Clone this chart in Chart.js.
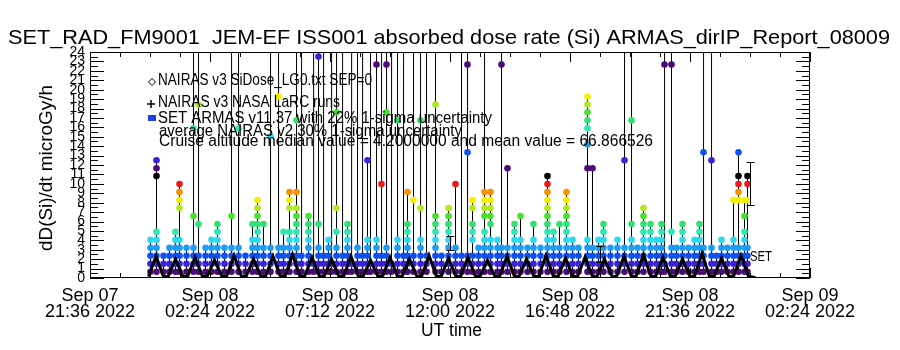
<!DOCTYPE html>
<html><head><meta charset="utf-8">
<script src="https://cdn.jsdelivr.net/npm/chart.js@4.4.0/dist/chart.umd.min.js"></script>
<style>html,body{margin:0;padding:0;background:#fff;}canvas{display:block;}</style>
</head><body>
<canvas id="c" width="900" height="350"></canvas>
<script>
const FONT = "'Liberation Sans', 'DejaVu Sans', sans-serif";

// ---- axes / labels ----
const xTickValues = [0, 4.8, 9.6, 14.4, 19.2, 24.0, 28.8]; // hours since Sep 07 21:36 UT
const xTickLabels = [["Sep 07","21:36 2022"],["Sep 08","02:24 2022"],["Sep 08","07:12 2022"],["Sep 08","12:00 2022"],["Sep 08","16:48 2022"],["Sep 08","21:36 2022"],["Sep 09","02:24 2022"]];
const yTickValues = [0,1,2,3,4,5,6,7,8,9,10,11,12,13,14,15,16,17,18,19,20,21,22,23,24];
const yTickLabels = ["0","1","2","3","4","5","6","7","8","9","10","11","12","13","14","15","16","17","18","19","20","21","22","23","24"];
const titleText = "SET_RAD_FM9001  JEM-EF ISS001 absorbed dose rate (Si) ARMAS_dirIP_Report_08009";
const yTitle = "dD(Si)/dt microGy/h";
const xTitle = "UT time";
const legendLines = ["NAIRAS v3 SiDose_LG0.txt SEP=0", "NAIRAS v3 NASA LaRC runs", "SET ARMAS v11.37 with 22% 1-sigma uncertainty", "average NAIRAS v2 30% 1-sigma uncertainty", "Cruise altitude median value = 4.2000000 and mean value = 66.866526"];

// ---- NAIRAS v3 SiDose (orbit-modulated curve) ----
const nairasT = [2.32,2.62,2.92, 3.10,3.40,3.70, 3.88,4.18,4.48, 4.66,4.96,5.26, 5.44,5.74,6.04, 6.22,6.52,6.82, 7.00,7.30,7.60, 7.78,8.08,8.38, 8.56,8.86,9.16, 9.34,9.64,9.94, 10.12,10.42,10.72, 10.90,11.20,11.50, 11.68,11.98,12.28, 12.46,12.76,13.06, 13.24,13.54,13.84, 14.02,14.32,14.62, 14.80,15.10,15.40, 15.58,15.88,16.18, 16.36,16.66,16.96, 17.14,17.44,17.74, 17.92,18.22,18.52, 18.70,19.00,19.30, 19.48,19.78,20.08, 20.26,20.56,20.86, 21.04,21.34,21.64, 21.82,22.12,22.42, 22.60,22.90,23.20, 23.38,23.68,23.98, 24.16,24.46,24.76, 24.94,25.24,25.54, 25.72,26.02,26.32, 26.60];
const nairasV = [0.15,2.3,0.15, 0.15,2.0,0.15, 0.15,2.2,0.15, 0.15,1.9,0.15, 0.15,2.4,0.15, 0.15,2.0,0.15, 0.15,2.3,0.15, 0.15,2.5,0.15, 0.15,2.2,0.15, 0.15,2.0,0.15, 0.15,2.3,0.15, 0.15,1.9,0.15, 0.15,2.2,0.15, 0.15,2.0,0.15, 0.15,2.4,0.15, 0.15,2.1,0.15, 0.15,2.2,0.15, 0.15,1.9,0.15, 0.15,2.3,0.15, 0.15,2.0,0.15, 0.15,2.4,0.15, 0.15,2.1,0.15, 0.15,2.2,0.15, 0.15,2.0,0.15, 0.15,2.3,0.15, 0.15,2.5,0.15, 0.15,2.2,0.15, 0.15,2.0,0.15, 0.15,2.6,0.15, 0.15,2.1,0.15, 0.15,2.4,0.15, 0.05];

// ---- SET ARMAS: quantised dose-rate levels (microGy/h) ----
const levelValues = [0,0.67,1.51,2.36,3.20,4.05,4.90,5.74,6.59,7.43,8.28,9.13,9.97,10.82,11.66,12.51,13.36,14.20,15.05,15.89,16.74,17.59,18.43,19.28,20.12,20.97,21.82,22.66,23.51];
const levelColors = ["#4b0a78","#3a22d6","#1050f0","#1e9cf5","#2cd8ee","#2ee6b0","#30e070","#48e030","#b0e820","#f4f000","#f89000","#ee1a1a","#000000"];
const armasT = [2.40,2.64,2.92,3.16,3.40,3.56,3.84,4.12,4.32,4.60,
 4.84,5.08,5.36,5.64,5.92,6.20,6.48,6.68,6.92,7.20,
 7.52,7.72,7.96,8.24,8.44,8.72,8.92,9.12,9.32,9.52,
 9.64,9.84,10.08,10.28,10.44,10.68,10.88,11.08,11.20,11.44,
 11.64,11.84,12.04,12.28,12.52,12.68,12.92,13.20,13.44,13.80,
 14.04,14.32,14.60,14.84,15.08,15.28,15.52,15.76,16.00,16.28,
 16.44,16.68,16.96,17.20,17.48,17.72,18.00,18.28,18.52,18.76,
 19.04,19.28,19.52,19.88,20.08,20.32,20.52,20.80,21.08,21.36,
 21.64,21.88,22.12,22.40,22.64,22.84,22.96,23.24,23.44,23.68,
 23.92,24.16,24.36,24.52,24.84,25.04,25.24,25.48,25.72,25.92,
 26.16,26.28];
const armasL = [
 [1,2,3,4,5],[1,2,3,4,5,6,13,14,15],[1,2,3],[1,2,3,4],[1,2,3,4,5,6],[1,2,3,4,5,9,10,11,12],[1,2,3,4],[1,2,3,4,8,19],[1,2,3,7,22],[1,2,3,4],
 [1,2,3,4,5],[1,2,3,4,5,6,7],[1,2,3,4],[1,2,3,4,8],[1,2,3,4,19],[1,2,3],[1,2,3,4,5,7],[1,2,3,4,5,6,7,8,9,10],[1,2,3,4,7],[1,2,3,4,18],
 [1,2,3,4,23],[1,2,3,4,6],[1,2,3,4,5,6,9,10,11],[1,2,3,4,5,6,7,8,9,11,20],[1,2,3],[1,2,3,4,5,6,7,8],[1,2],[1,2,3,4,7,28],[1,2,3],[1,2,3,4,5],
 [1,2],[1,2,3,4,6,9,21],[1,2,3],[1,2,3,4,5,6,7],[1,2],[1,2,3,4],[1,2,3],[1,2,3,4,5,15],[1,2],[1,2,3,4,5,27],
 [1,2,3,12],[1,2,3,4,21,27],[1,2],[1,2,3,4,5,20],[1,2,3],[1,2,3,4,5,6,7,11],[1,2,3,10],[1,2,3,4,5,9,20],[1,2,3],[1,2,3,4,5,6,7,8,22],
 [1,2,3],[1,2,3,4,5,6,7,8,9],[1,2,3,4,12],[1,2,3],[1,2,3,16,27],[1,2,3,5,6,7,9,10],[1,2,3,4],[1,2,3,4,5,6,8,9,10,11],[1,2,3,4,5,7,8,9,10,11],[1,2,3,4,5],
 [1,2,3,4,27],[1,2,3,4,14],[1,2,3,4,5,6,7],[1,2,3,4,5,8],[1,2,3,4],[1,2,3,4,5,7],[1,2,3,4],[1,2,3,4,5,6,7,8,9,10,11,12,13],[1,2,3,4,5,6],[1,2,3,4,7],
 [1,2,3,4,5,6,7,8,9,10,11],[1,2,3,4,5],[1,2,3,4],[1,2,3,4,5,14,17,19,20,21,22,23],[1,2,3,4,14],[1,2,3,4,5],[1,2,3,4,5,6,7],[1,2,3,4],[1,2,3,4,5],[1,2,3,4,15],
 [1,2,3,4,5,7,20],[1,2,3,4],[1,2,3,4,5,6,7,8,9],[1,2,3,4,5,6,7],[1,2,3,4,5],[1,2,3,4,5,6,7],[1,2,3,27],[1,2,3,4,6,27],[1,2,3,4],[1,2,3,4,5,6,7],
 [1,2,3,4],[1,2,3,4,5],[1,2,3,4,5,6,7],[1,2,3,4,16],[1,2,3,4,15],[1,2,3],[1,2,3,4,5],[1,2,3,4],[1,2,3,4,5,10],[1,2,3,4,10,11,12,13,16],
 [1,2,3,4,5,6,8,10],[1,2,3,4,10,12,13]];
// off-scale ARMAS readings (0 = none) following each column
const armasSpike = [0,0,0,0,0,0,0,85,120,0,
 0,0,0,60,95,0,0,0,0,70,
 150,0,0,90,200,0,80,300,75,0,
 110,65,130,0,90,140,70,0,100,180,
 80,220,60,95,75,0,160,85,120,70,
 0,0,0,90,130,0,0,75,0,0,
 110,0,0,0,0,0,0,0,0,0,
 0,0,0,0,0,0,0,0,0,120,
 90,0,0,0,0,0,160,140,0,0,
 0,0,0,100,80,0,0,0,0,0,
 0,0];

// ---- uncertainty bars ----
const errT = [14.40, 20.40, 26.40];
const errLo = [3.0, 1.7, 7.8];
const errHi = [4.5, 3.4, 12.3];

// ---- build datasets ----
const nairasPts = nairasT.map((t,i)=>({x:t, y:nairasV[i]}));
const armasPts = [];
armasT.forEach((t,i)=>{
  armasL[i].forEach(k=>armasPts.push({x:t, y:levelValues[k], k:k}));
  if (armasSpike[i]) armasPts.push({x:t+0.01, y:armasSpike[i], k:0});
  armasPts.push({x:t, y:null, k:0});
});

function fitText(ctx, txt, x, y, w, font){
  ctx.font = font;
  const m = ctx.measureText(txt).width;
  ctx.save();
  ctx.translate(x, y);
  ctx.scale(w/m, 1);
  ctx.textAlign = 'left';
  ctx.textBaseline = 'middle';
  ctx.fillText(txt, 0, 0);
  ctx.restore();
}

const decor = {
  id: 'decor',
  beforeDatasetsDraw(chart){
    chart.ctx.save();
    chart.ctx.translate(0.5, 0);
  },
  afterDatasetsDraw(chart){
    const {ctx, chartArea:a, scales:{x, y}} = chart;
    ctx.restore();
    ctx.save();
    ctx.strokeStyle = '#000'; ctx.lineWidth = 1;
    // uncertainty bars
    errT.forEach((t,i)=>{
      const px = Math.round(x.getPixelForValue(t)) + 0.5;
      const y1 = Math.round(y.getPixelForValue(errLo[i])) + 0.5;
      const y2 = Math.round(y.getPixelForValue(errHi[i])) + 0.5;
      ctx.beginPath();
      ctx.moveTo(px, y1); ctx.lineTo(px, y2);
      ctx.moveTo(px-4, y1); ctx.lineTo(px+4, y1);
      ctx.moveTo(px-4, y2); ctx.lineTo(px+4, y2);
      ctx.stroke();
    });
    // frame
    ctx.strokeRect(a.left+0.5, a.top+0.5, a.right-a.left-1, a.bottom-a.top-1);
    // inward tick marks
    ctx.beginPath();
    for (let v = 0; v <= 24.001; v += 0.5) {
      const py = Math.round(y.getPixelForValue(v)) + 0.5;
      const len = Math.abs(v - Math.round(v)) < 0.01 ? 14 : 8;
      ctx.moveTo(a.left, py); ctx.lineTo(a.left + len, py);
      ctx.moveTo(a.right, py); ctx.lineTo(a.right - len, py);
    }
    for (let i = 0; i <= 24; i++) {
      const px = Math.round(x.getPixelForValue(i*1.2)) + 0.5;
      const len = i % 4 === 0 ? 10 : 5;
      ctx.moveTo(px, a.bottom); ctx.lineTo(px, a.bottom - len);
      ctx.moveTo(px, a.top); ctx.lineTo(px, a.top + len);
    }
    ctx.stroke();
    ctx.restore();
  },
  afterDraw(chart){
    const {ctx} = chart;
    ctx.save();
    ctx.fillStyle = '#000';
    fitText(ctx, titleText, 8, 38, 882, "21px " + FONT);
    // y title
    ctx.save();
    ctx.translate(47, 168);
    ctx.rotate(-Math.PI/2);
    fitText(ctx, yTitle, -83, 0, 166, "18px " + FONT);
    ctx.restore();
    fitText(ctx, xTitle, 421, 331, 61, "18px " + FONT);
    // legend entries
    const lx = 158;
    const ly = [81, 103, 119, 132, 142];
    const lw = [214, 182, 334, 303, 494];
    legendLines.forEach((s,i)=>fitText(ctx, s, lx + (i>2?1:0), ly[i], lw[i], "16px " + FONT));
    ctx.strokeStyle = '#000'; ctx.lineWidth = 1;
    ctx.beginPath(); // diamond
    ctx.moveTo(152, 78.5); ctx.lineTo(155.5, 82); ctx.lineTo(152, 85.5); ctx.lineTo(148.5, 82); ctx.closePath();
    ctx.stroke();
    ctx.lineWidth = 1.5;
    ctx.beginPath(); // plus
    ctx.moveTo(147, 104); ctx.lineTo(155, 104); ctx.moveTo(151, 100); ctx.lineTo(151, 108);
    ctx.stroke();
    ctx.fillStyle = '#2040e8';
    ctx.fillRect(148, 115, 8, 6);
    ctx.fillStyle = '#000';
    fitText(ctx, "SET", 750, 257, 22, "15px " + FONT);
    ctx.restore();
  }
};

new Chart(document.getElementById('c'), {
  type: 'scatter',
  data: {
    datasets: [
      { label: 'NAIRAS v3 SiDose', data: nairasPts, showLine: true, borderColor: '#000', borderWidth: 3,
        pointRadius: 0, fill: false, tension: 0, order: 0 },
      { label: 'SET ARMAS', data: armasPts, showLine: true, spanGaps: false, borderColor: '#000', borderWidth: 1,
        pointRadius: c => (c.raw && c.raw.k) ? 3.3 : 0,
        pointBackgroundColor: c => (c.raw && c.raw.k) ? levelColors[(c.raw.k - 1) % 13] : 'rgba(0,0,0,0)',
        pointBorderWidth: 0, pointStyle: 'circle', tension: 0, order: 1 }
    ]
  },
  options: {
    responsive: false, animation: false, devicePixelRatio: 1, events: [],
    layout: { padding: { top: 52, right: 90, left: 0, bottom: 0 } },
    plugins: { legend: { display: false }, tooltip: { enabled: false }, title: { display: false } },
    scales: {
      x: {
        type: 'linear', min: 0, max: 28.8,
        afterBuildTicks: s => { s.ticks = xTickValues.map(v => ({ value: v })); },
        afterFit: s => { s.height = 72; },
        grid: { display: false, drawTicks: false }, border: { display: false },
        ticks: { callback: (v, i) => xTickLabels[i], autoSkip: false, maxRotation: 0, minRotation: 0,
          color: '#000', padding: 10, font: { family: FONT, size: 18, lineHeight: 0.89 } }
      },
      y: {
        type: 'linear', min: 0, max: 24,
        afterBuildTicks: s => { s.ticks = yTickValues.map(v => ({ value: v })); },
        afterFit: s => { s.width = 90; },
        grid: { display: false, drawTicks: false }, border: { display: false },
        ticks: { callback: (v, i) => yTickLabels[i], autoSkip: false, color: '#000', padding: 5,
          font: { family: FONT, size: 14 } }
      }
    }
  },
  plugins: [decor]
});
</script>
</body></html>
